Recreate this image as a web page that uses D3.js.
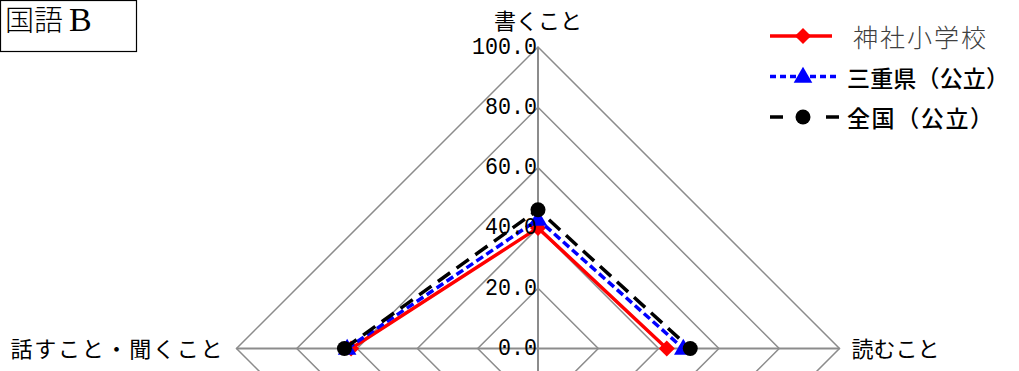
<!DOCTYPE html>
<html>
<head>
<meta charset="utf-8">
<script src="https://cdn.jsdelivr.net/npm/d3@7"></script>
<style>
  body { margin: 0; background: #fff; }
  svg { display: block; }
</style>
</head>
<body>
<div id="chart"></div>
<script>
// axes in drawing order: top, right, bottom (cut off), left
var axes = ["書くこと", "読むこと", "", "話すこと・聞くこと"];
var categories = ["話すこと・聞くこと", "書くこと", "読むこと"];
var seriesNames = ["神社小学校", "三重県（公立）", "全国（公立）"];
var school = [62.0, 40.0, 42.7];
var mie = [63.3, 42.8, 48.2];
var zenkoku = [64.2, 46.0, 50.5];
var ticks = [0, 20, 40, 60, 80, 100];
var tickLabels = ["0.0", "20.0", "40.0", "60.0", "80.0", "100.0"];

var width = 1019, height = 371;
var cx = 538, cy = 348.5;

var svg = d3.select("#chart").append("svg")
    .attr("width", width)
    .attr("height", height);

var r = d3.scaleLinear().domain([0, 100]).range([0, 301.5]);
var angle = d3.scalePoint().domain(axes).range([0, 2 * Math.PI * 3 / 4]);

function pt(axis, v) {
    var a = angle(axis);
    return [cx + Math.sin(a) * r(v), cy - Math.cos(a) * r(v)];
}

// grid diamonds
ticks.slice(1).forEach(function(t) {
    var pts = axes.map(function(ax) { return pt(ax, t); });
    svg.append("polygon")
        .attr("points", pts.map(function(p) { return p.join(","); }).join(" "))
        .style("fill", "none")
        .style("stroke", "#8c8c8c")
        .style("stroke-width", "1.5px");
});

// spokes
axes.forEach(function(ax) {
    var p = pt(ax, 100);
    svg.append("line")
        .attr("x1", cx).attr("y1", cy)
        .attr("x2", p[0]).attr("y2", p[1])
        .style("stroke", "#8c8c8c")
        .style("stroke-width", "2px");
});

var line = d3.line();

var series = [
    { name: seriesNames[0], values: school, color: "#ff0000", dash: null, marker: "diamond", legendDash: null },
    { name: seriesNames[1], values: mie, color: "#0000ff", dash: "8,4", marker: "triangle", legendDash: "6,4" },
    { name: seriesNames[2], values: zenkoku, color: "#000000", dash: "15,8", marker: "circle", legendDash: "13,43" }
];

function marker(g, type, color, x, y) {
    if (type === "circle") {
        g.append("circle").attr("cx", x).attr("cy", y).attr("r", 7.5).style("fill", color);
    } else if (type === "diamond") {
        g.append("path")
            .attr("d", d3.symbol().type(d3.symbolSquare).size(130))
            .attr("transform", "translate(" + x + "," + y + ") rotate(45)")
            .style("fill", color);
    } else {
        g.append("path")
            .attr("d", d3.symbol().type(d3.symbolTriangle).size(150))
            .attr("transform", "translate(" + x + "," + (y + 1) + ")")
            .style("fill", color);
    }
}

// draw series bottom to top: red, blue, black
series.forEach(function(s) {
    var pts = categories.map(function(c, i) { return pt(c, s.values[i]); });
    svg.append("path")
        .attr("d", line(pts))
        .style("fill", "none")
        .style("stroke", s.color)
        .style("stroke-width", "3.5px")
        .style("stroke-dasharray", s.dash);
    var g = svg.append("g");
    pts.forEach(function(p) { marker(g, s.marker, s.color, p[0], p[1]); });
});

// tick labels (drawn above data)
ticks.forEach(function(t, i) {
    var p = pt(axes[0], t);
    svg.append("text")
        .text(tickLabels[i])
        .attr("x", 537)
        .attr("y", p[1])
        .attr("text-anchor", "end")
        .attr("dominant-baseline", "central")
        .attr("textLength", tickLabels[i].length * 13)
        .attr("lengthAdjust", "spacingAndGlyphs")
        .style("font-family", "'Liberation Mono', monospace")
        .style("font-size", "24px")
        .style("fill", "#000");
});

// axis labels
var labelFont = "'Noto Sans CJK JP', sans-serif";
svg.append("text").text(axes[0])
    .attr("x", cx).attr("y", 19)
    .attr("text-anchor", "middle").attr("dominant-baseline", "central")
    .style("font-family", labelFont).style("font-size", "22px");
svg.append("text").text(axes[1])
    .attr("x", pt(axes[1], 100)[0] + 12).attr("y", cy - 2)
    .attr("text-anchor", "start").attr("dominant-baseline", "central")
    .style("font-family", labelFont).style("font-size", "22px");
svg.append("text").text(axes[3])
    .attr("x", pt(axes[3], 100)[0] - 14).attr("y", cy - 2)
    .attr("text-anchor", "end").attr("dominant-baseline", "central")
    .style("font-family", labelFont).style("font-size", "22px")
    .attr("textLength", 212).attr("lengthAdjust", "spacing");

// legend
var legendLen = [null, 162, 146];
var legend = svg.append("g").attr("transform", "translate(770,36)");
series.forEach(function(s, i) {
    var y = i * 40.5;
    legend.append("line")
        .attr("x1", 0).attr("x2", i === 0 ? 62 : 70)
        .attr("y1", y).attr("y2", y)
        .style("stroke", s.color)
        .style("stroke-width", "3.5px")
        .style("stroke-dasharray", s.legendDash);
    marker(legend, s.marker, s.color, 33, y);
    var t = legend.append("text")
        .text(s.name)
        .attr("x", i === 0 ? 83 : 77)
        .attr("y", y)
        .attr("dominant-baseline", "central")
        .style("font-family", labelFont)
        .style("font-size", i === 0 ? "25px" : "23px")
        .style("font-weight", i === 0 ? 300 : 500)
        .style("fill", i === 0 ? "#404040" : "#000");
    if (i === 0) t.style("letter-spacing", "2px");
    else t.attr("textLength", legendLen[i]).attr("lengthAdjust", "spacing");
});

// title box
svg.append("rect")
    .attr("x", 0.5).attr("y", 0.5)
    .attr("width", 136).attr("height", 51)
    .style("fill", "#fff")
    .style("stroke", "#000")
    .style("stroke-width", "1.2px");
var title = svg.append("text")
    .attr("x", 5).attr("y", 31)
    .style("font-size", "29px")
    .style("fill", "#000");
title.append("tspan").text("国語")
    .style("font-family", labelFont).style("font-weight", 300);
title.append("tspan").text("B").attr("dx", 6)
    .style("font-family", "'Liberation Serif', serif").style("font-size", "34px");
</script>
</body>
</html>
